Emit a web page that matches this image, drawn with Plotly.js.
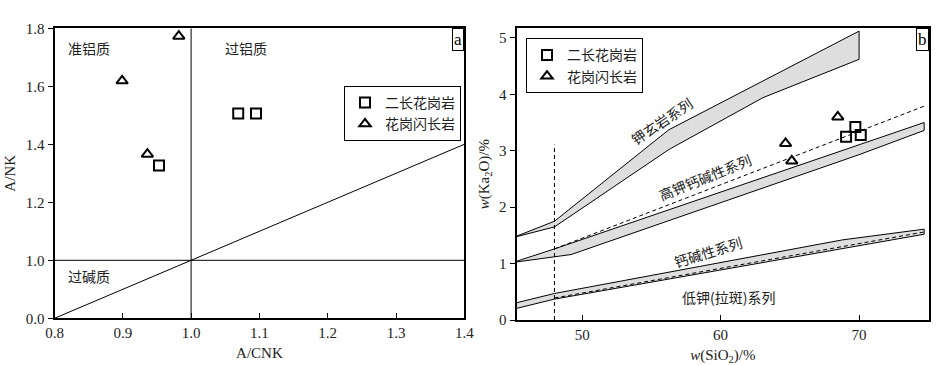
<!DOCTYPE html>
<html>
<head>
<meta charset="utf-8">
<script src="https://cdn.plot.ly/plotly-3.0.1.min.js"></script>
<style>html,body{margin:0;padding:0;background:#fff;}#chart{width:939px;height:365px;}</style>
</head>
<body>
<div id="chart"></div>
<script>
// ---------- Panel a : A/CNK vs A/NK (y axis broken: 0.0 shown at 0.8 display) ----------
const aMonzoX = [0.953, 1.069, 1.095];          // 二长花岗岩
const aMonzoY = [1.327, 1.506, 1.506];
const aGranodX = [0.982, 0.899, 0.936];         // 花岗闪长岩
const aGranodY = [1.773, 1.619, 1.366];
const aDiagX = [0.8, 1.0, 1.4];                 // boundary line (display coords)
const aDiagY = [0.8, 1.0, 1.4];
const aYTickVals = [0.8, 1.0, 1.2, 1.4, 1.6, 1.8];
const aYTickText = ["0.0", "1.0", "1.2", "1.4", "1.6", "1.8"];
const aXTickVals = [0.8, 0.9, 1.0, 1.1, 1.2, 1.3, 1.4];
const aXTickText = ["0.8", "0.9", "1.0", "1.1", "1.2", "1.3", "1.4"];
const aRegionText = ["准铝质", "过铝质", "过碱质"];
const aRegionX = [0.85, 1.081, 0.85];
const aRegionY = [1.733, 1.733, 0.947];

// ---------- Panel b : SiO2 vs K2O ----------
const bMonzoX = [69.06, 69.73, 70.12];
const bMonzoY = [3.25, 3.42, 3.28];
const bGranodX = [64.69, 65.14, 68.46];
const bGranodY = [3.13, 2.82, 3.60];
// 钾玄岩系列 band
const shoUpX = [45, 48, 56.25, 70];
const shoUpY = [1.46, 1.75, 3.37, 5.12];
const shoLoX = [45, 48, 56.25, 63.05, 70];
const shoLoY = [1.46, 1.65, 3.02, 3.94, 4.62];
// 高钾钙碱性系列 band
const hkUpX = [45, 48, 74.7];
const hkUpY = [1.02, 1.26, 3.50];
const hkLoX = [45, 48, 49.2, 70, 74.7];
const hkLoY = [1.02, 1.12, 1.16, 2.93, 3.36];
const hkDashX = [48, 74.7];
const hkDashY = [1.26, 3.79];
// 钙碱性系列 band
const caUpX = [45, 48, 68.8, 74.7];
const caUpY = [0.29, 0.47, 1.42, 1.61];
const caLoX = [45, 48, 74.7];
const caLoY = [0.19, 0.37, 1.52];
const caDashX = [48, 74.7];
const caDashY = [0.39, 1.56];
// vertical dashed line at SiO2 = 48
const vDashX = [48, 48];
const vDashY = [0, 3.11];
const bXTickVals = [50, 60, 70];
const bYTickVals = [0, 1, 2, 3, 4, 5];
const bSeriesText = ["钾玄岩系列", "高钾钙碱性系列", "钙碱性系列", "低钾(拉斑)系列"];
const bSeriesX = [55.77, 58.9, 59.07, 60.57];
const bSeriesY = [3.52, 2.53, 1.21, 0.41];
const bSeriesAngle = [-34, -22, -17, 0];

const FONT = "Liberation Serif";
const CJK = "Noto Sans CJK SC";
const fillGray = "#dedede";

function band(ux, uy, lx, ly, xa, ya) {
  return {
    x: ux.concat(lx.slice().reverse()).concat([ux[0]]),
    y: uy.concat(ly.slice().reverse()).concat([uy[0]]),
    xaxis: xa, yaxis: ya, type: "scatter", mode: "lines",
    fill: "toself", fillcolor: fillGray,
    line: {color: "#000", width: 1}, showlegend: false, hoverinfo: "skip"
  };
}
function line(x, y, xa, ya, dash) {
  return {x: x, y: y, xaxis: xa, yaxis: ya, type: "scatter", mode: "lines",
    line: {color: "#000", width: 1, dash: dash || "solid"}, showlegend: false, hoverinfo: "skip"};
}
function pts(x, y, xa, ya, sym, name, legend) {
  return {x: x, y: y, xaxis: xa, yaxis: ya, type: "scatter", mode: "markers", name: name,
    legend: legend, showlegend: true,
    marker: {symbol: sym, size: 10, color: "#000", line: {color: "#000", width: 2}}};
}

const traces = [
  line([1.0, 1.0], [0.8, 1.8], "x", "y"),
  line([0.8, 1.4], [1.0, 1.0], "x", "y"),
  line(aDiagX, aDiagY, "x", "y"),
  pts(aMonzoX, aMonzoY, "x", "y", "square-open", "二长花岗岩", "legend"),
  pts(aGranodX, aGranodY, "x", "y", "triangle-up-open", "花岗闪长岩", "legend"),

  band(shoUpX, shoUpY, shoLoX, shoLoY, "x2", "y2"),
  band(hkUpX, hkUpY, hkLoX, hkLoY, "x2", "y2"),
  band(caUpX, caUpY, caLoX, caLoY, "x2", "y2"),
  line(hkDashX, hkDashY, "x2", "y2", "4px,3px"),
  line(caDashX, caDashY, "x2", "y2", "4px,3px"),
  line(vDashX, vDashY, "x2", "y2", "4px,3px"),
  pts(bMonzoX, bMonzoY, "x2", "y2", "square-open", "二长花岗岩", "legend2"),
  pts(bGranodX, bGranodY, "x2", "y2", "triangle-up-open", "花岗闪长岩", "legend2")
];

const annotations = [];
for (let i = 0; i < aRegionText.length; i++) {
  annotations.push({x: aRegionX[i], y: aRegionY[i], xref: "x", yref: "y", text: aRegionText[i],
    showarrow: false, font: {family: CJK, size: 14, color: "#222"}});
}
for (let i = 0; i < bSeriesText.length; i++) {
  annotations.push({x: bSeriesX[i], y: bSeriesY[i], xref: "x2", yref: "y2", text: bSeriesText[i],
    showarrow: false, textangle: bSeriesAngle[i], font: {family: CJK, size: 14, color: "#222"}});
}
annotations.push({x: 464.3 / 939, y: 1 - 28.3 / 365, xref: "paper", yref: "paper", xanchor: "right", yanchor: "top",
  text: "a", showarrow: false, bordercolor: "#000", borderwidth: 1, borderpad: 1, bgcolor: "#fff",
  font: {family: FONT, size: 17, color: "#000"}});
annotations.push({x: 929.3 / 939, y: 1 - 28.3 / 365, xref: "paper", yref: "paper", xanchor: "right", yanchor: "top",
  text: "b", showarrow: false, bordercolor: "#000", borderwidth: 1, borderpad: 1, bgcolor: "#fff",
  font: {family: FONT, size: 17, color: "#000"}});

const tf = {family: FONT, size: 15, color: "#222"};
const ttf = {family: FONT, size: 15, color: "#222"};
const axBase = {showline: true, mirror: true, linecolor: "#000", linewidth: 2, showgrid: false, zeroline: false,
  ticklen: 5, tickcolor: "#000", tickwidth: 1, tickfont: tf};

const layout = {
  width: 939, height: 365,
  margin: {l: 0, r: 0, t: 0, b: 0},
  paper_bgcolor: "#fff", plot_bgcolor: "#fff",
  font: {family: FONT, color: "#222"},
  xaxis: Object.assign({}, axBase, {domain: [54.5 / 939, 464.3 / 939], range: [0.8, 1.4], ticks: "inside",
    tickmode: "array", tickvals: aXTickVals, ticktext: aXTickText, anchor: "y",
    title: {text: "A/CNK", font: ttf, standoff: 7}}),
  yaxis: Object.assign({}, axBase, {domain: [1 - 318.3 / 365, 1 - 28.3 / 365], range: [0.8, 1.8], ticks: "outside",
    tickmode: "array", tickvals: aYTickVals, ticktext: aYTickText, anchor: "x",
    title: {text: "A/NK", font: ttf, standoff: 6}}),
  xaxis2: Object.assign({}, axBase, {domain: [516.5 / 939, 929.3 / 939], range: [45.26, 75.07], ticks: "inside",
    tickmode: "array", tickvals: bXTickVals, anchor: "y2",
    title: {text: "<i>w</i>(SiO<sub>2</sub>)/%", font: ttf, standoff: 7}}),
  yaxis2: Object.assign({}, axBase, {domain: [1 - 320 / 365, 1 - 28.3 / 365], range: [0, 5.17], ticks: "outside",
    tickmode: "array", tickvals: bYTickVals, anchor: "x2",
    title: {text: "<i>w</i>(Ka<sub>2</sub>O)/%", font: ttf, standoff: 6}}),
  legend: {x: 344 / 939, y: 1 - 86 / 365, xanchor: "left", yanchor: "top", bordercolor: "#000", borderwidth: 1,
    bgcolor: "#fff", font: {family: CJK, size: 14, color: "#222"}, tracegroupgap: 0, itemwidth: 30},
  legend2: {x: 526 / 939, y: 1 - 38.3 / 365, xanchor: "left", yanchor: "top", bordercolor: "#000", borderwidth: 1,
    bgcolor: "#fff", font: {family: CJK, size: 14, color: "#222"}, tracegroupgap: 0, itemwidth: 30},
  annotations: annotations,
  showlegend: true
};

Plotly.newPlot("chart", traces, layout, {displayModeBar: false, staticPlot: true});
</script>
</body>
</html>
